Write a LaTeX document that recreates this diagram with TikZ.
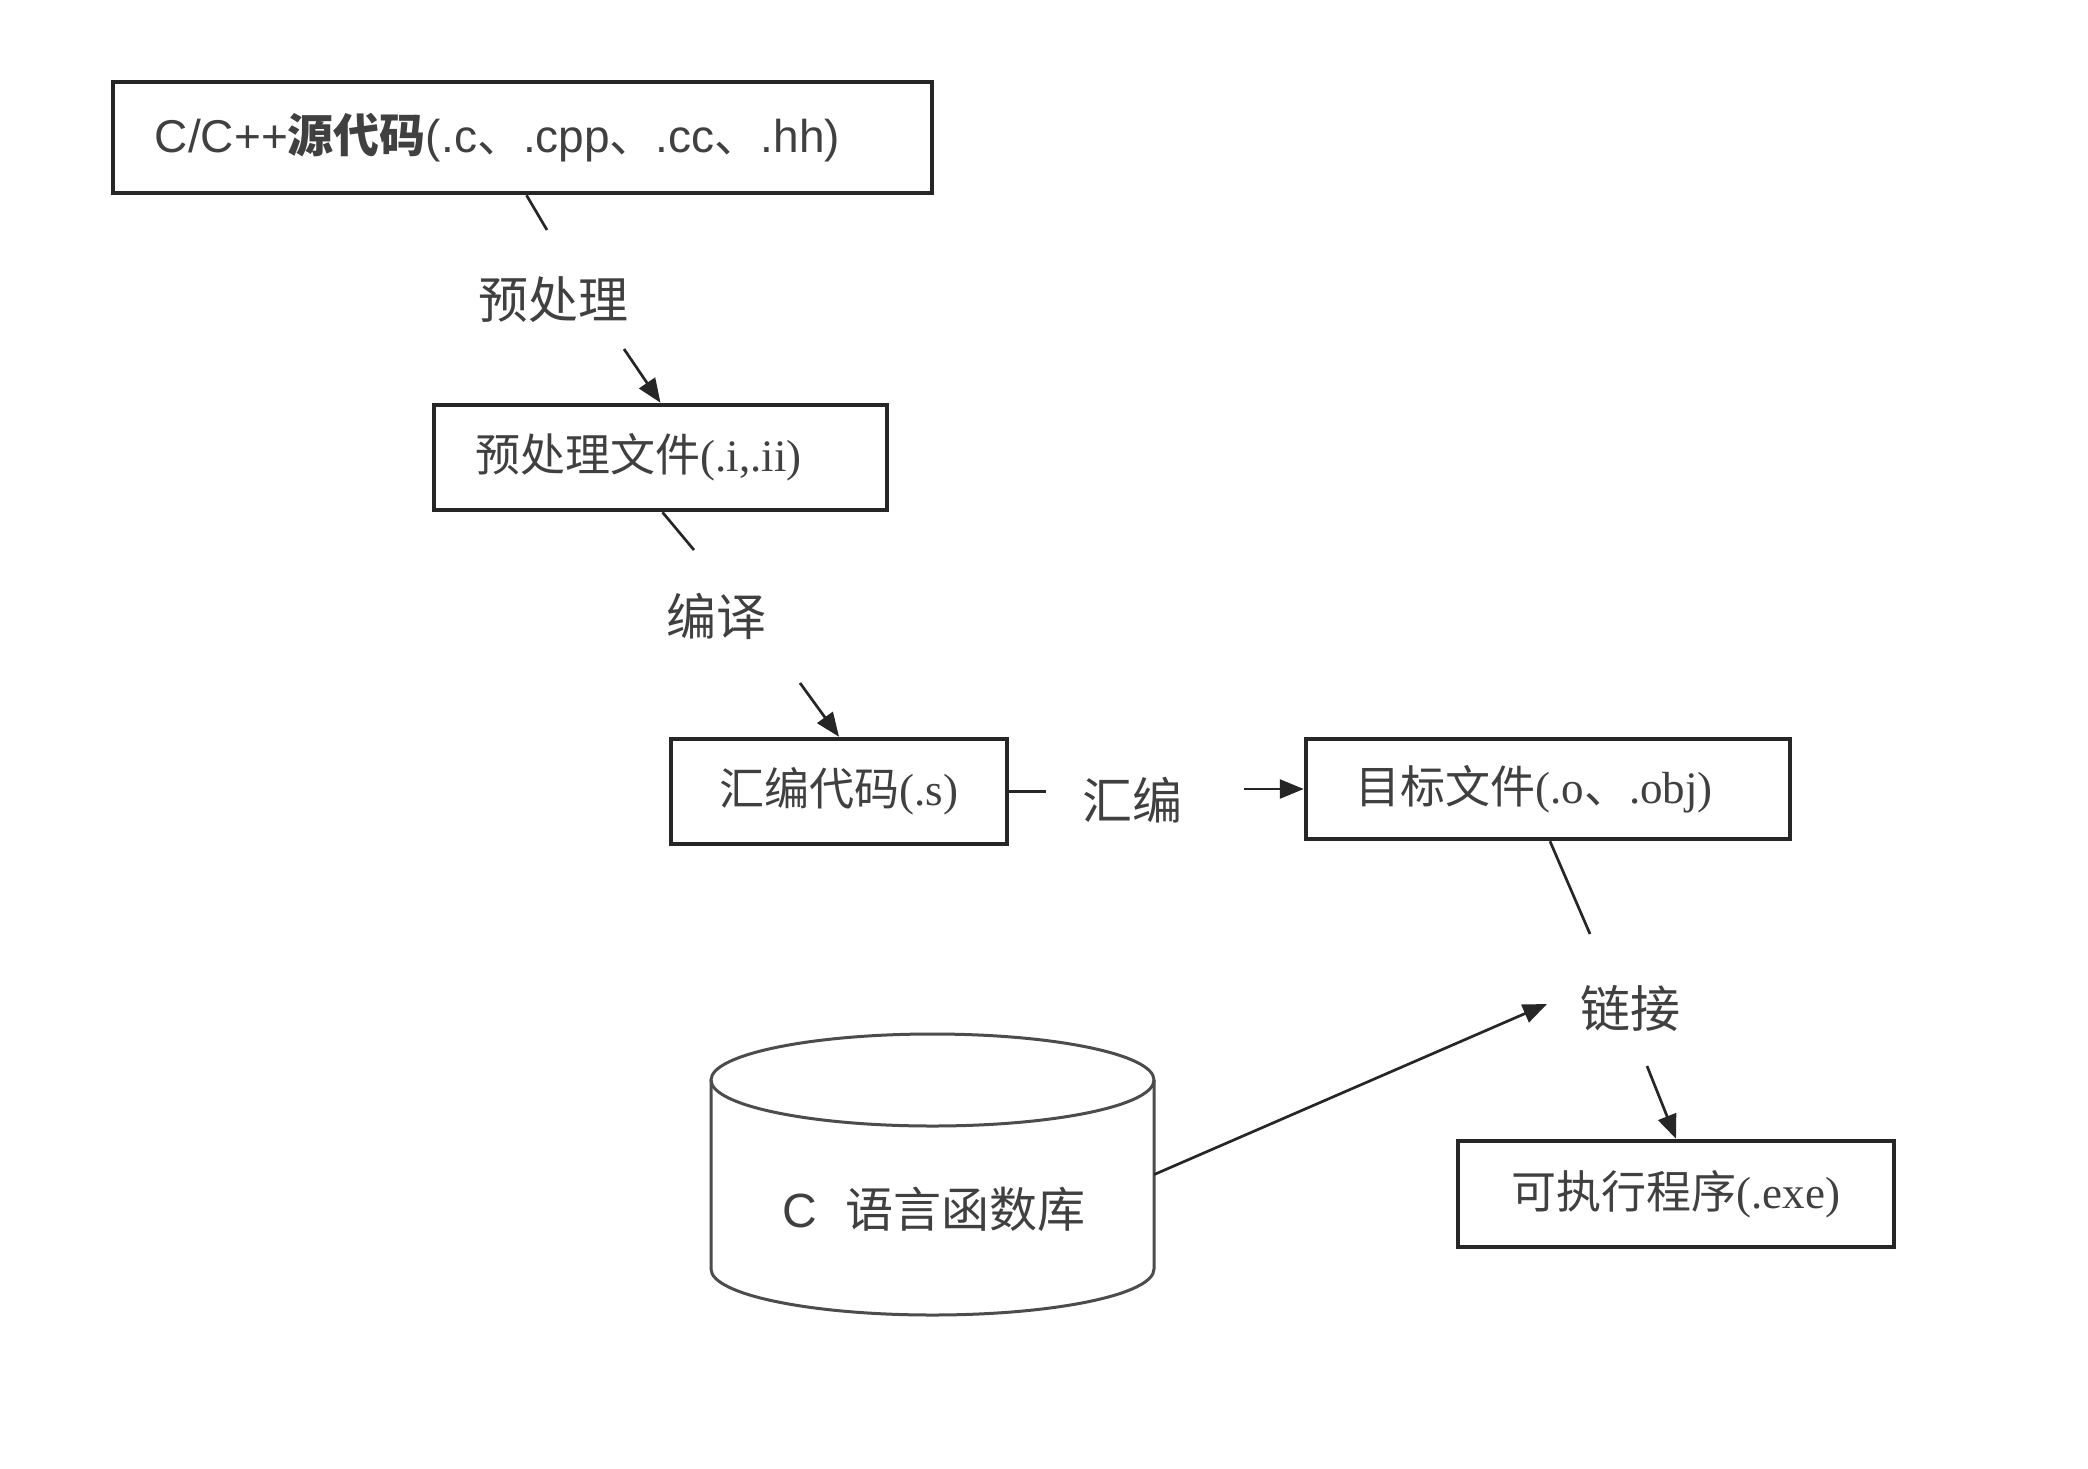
\documentclass[tikz,border=0pt]{standalone}
\usepackage{fontspec}
\setmainfont{Liberation Serif}
\newfontfamily\cjk{Noto Sans CJK SC}
\newfontfamily\sanf{Liberation Sans}
\usetikzlibrary{arrows.meta}
\definecolor{txtgray}{HTML}{404040}
\definecolor{linegray}{HTML}{262626}
\begin{document}
\begin{tikzpicture}[x=1pt,y=-1pt,
  filebox/.style={draw=linegray, line width=4.5pt, inner sep=0pt, text=txtgray,
    font=\fontsize{45}{50}\selectfont},
  lbl/.style={inner sep=0pt, text=txtgray, font=\cjk\fontsize{50}{55}\selectfont},
  conn/.style={draw=linegray, line width=2.7pt},
  arr/.style={conn, -{Triangle[length=24pt,width=19pt]}},
  cylline/.style={draw=black!70, line width=3pt}]
\useasboundingbox[fill=white] (0,0) rectangle (2088,1468);
% boxes
\node[filebox, minimum width=819pt, minimum height=111pt, font=\fontsize{46}{50}\selectfont] (b1) at (522.5,137.5)
  {\sanf C/C++{\cjk\bfseries 源代码}(.c{\cjk 、}.cpp{\cjk 、}.cc{\cjk 、}.hh)\rule{50pt}{0pt}};
\node[filebox, minimum width=453pt, minimum height=105pt] (b2) at (660.5,457.5)
  {{\cjk 预处理文件}(.i,.ii)\rule{44pt}{0pt}};
\node[filebox, minimum width=336pt, minimum height=105pt] (b3) at (839,791.5)
  {{\cjk 汇编代码}(.s)};
\node[filebox, minimum width=484pt, minimum height=100pt] (b4) at (1548,789)
  {{\cjk 目标文件}(.o{\cjk 、}.obj)\rule{28pt}{0pt}};
\node[filebox, minimum width=436pt, minimum height=106pt] (b5) at (1676,1194)
  {{\cjk 可执行程序}(.exe)};
% cylinder
\draw[cylline] (711,1080) -- (711,1269)
  arc[start angle=180, end angle=360, x radius=221.5pt, y radius=46pt] -- (1154,1080);
\draw[cylline] (932.5,1080) ellipse[x radius=221.5pt, y radius=46pt];
\node[inner sep=0pt, minimum width=443pt, minimum height=281pt] (cyl) at (932.5,1174.5) {};
\node[inner sep=0pt, text=txtgray, font=\fontsize{48}{52}\selectfont] (cyltext) at (934,1209)
  {\sanf C\hspace{0.6em}{\cjk 语言函数库}};
% labels
\node[lbl] (l1) at (553,300) {预处理};
\node[lbl] (l2) at (716,616) {编译};
\node[lbl] (l3) at (1132,800) {汇编};
\node[lbl] (l4) at (1630,1008) {链接};
% connector coordinates
\coordinate (e1) at (547,230);
\coordinate (s2) at (624,349);
\coordinate (e2) at (694,550);
\coordinate (s3) at (800,683);
\coordinate (e3) at (1046,791.5);
\coordinate (s4) at (1244,789);
\coordinate (e4) at (1590,934);
\coordinate (e5) at (1547,1004);
\coordinate (s6) at (1647,1066);
% connectors
\draw[conn] ([xshift=4pt]b1.south) -- (e1);
\draw[arr] (s2) -- (b2.north);
\draw[conn] ([xshift=2pt]b2.south) -- (e2);
\draw[arr] (s3) -- (b3.north);
\draw[conn] (b3.east) -- (e3);
\draw[arr] (s4) -- (b4.west);
\draw[conn] ([xshift=2pt]b4.south) -- (e4);
\draw[arr] (cyl.east) -- (e5);
\draw[arr] (s6) -- (b5.north);
\end{tikzpicture}
\end{document}
